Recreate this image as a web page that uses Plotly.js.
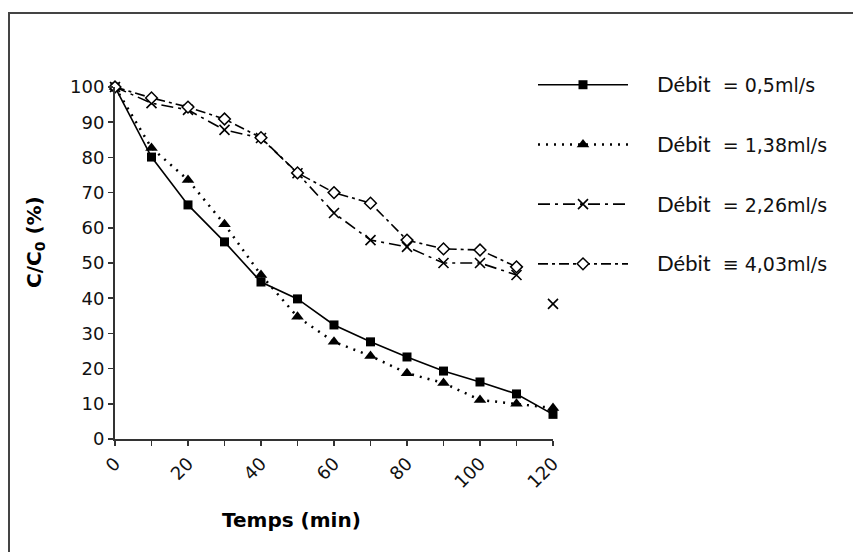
<!DOCTYPE html>
<html>
<head>
<meta charset="utf-8">
<script src="https://cdn.plot.ly/plotly-3.0.1.min.js"></script>
<style>html,body{margin:0;padding:0;background:#fff;}#chart{width:853px;height:552px;}</style>
</head>
<body>
<div id="chart"></div>
<script>
// Time (min)
const temps = [0, 10, 20, 30, 40, 50, 60, 70, 80, 90, 100, 110, 120];
// C/C0 (%) for each flow rate
const debit_0_5  = [100, 80.1, 66.5, 56, 44.6, 39.8, 32.4, 27.6, 23.3, 19.3, 16.2, 12.8, 7];
const debit_1_38 = [100, 82.7, 73.6, 61, 46.6, 34.7, 27.6, 23.6, 18.7, 15.9, 11.1, 10, 8.8];
const debit_2_26 = [100, 95.4, 93.5, 87.8, 85.5, 75.5, 64.2, 56.5, 54.6, 50, 50, 46.6, 38.4];
const debit_4_03 = [100, 96.9, 94.3, 90.9, 85.6, 75.6, 70, 67, 56.5, 54, 53.7, 48.9];
const legendLabels = ['= 0,5ml/s', '= 1,38ml/s', '= 2,26ml/s', '\u2261 4,03ml/s'];
const xTickVals = [0, 20, 40, 60, 80, 100, 120];
const yTickVals = [0, 10, 20, 30, 40, 50, 60, 70, 80, 90, 100];

function lbl(i){
  return '<span style="font-family:Lato;font-size:22px">D\u00e9bit</span>\u00a0\u00a0' + legendLabels[i];
}

const traces = [
  {x: temps, y: debit_0_5, name: lbl(0), legendgroup: 'a', mode: 'lines+markers', cliponaxis: false,
   line: {color: '#000', width: 1.6, dash: 'solid'},
   marker: {symbol: 'square', size: 9, color: '#000'}},
  {x: temps, y: debit_1_38, name: lbl(1), legendgroup: 'b', mode: 'lines+markers', cliponaxis: false,
   line: {color: '#000', width: 2.5, dash: '2px,6px'},
   marker: {symbol: 'triangle-up', size: 11, color: '#000'}},
  {x: temps.slice(0, 12), y: debit_2_26.slice(0, 12), name: lbl(2), legendgroup: 'c', mode: 'lines+markers', cliponaxis: false,
   line: {color: '#000', width: 1.6, dash: '12px,5px,3px,5px'},
   marker: {symbol: 'x-thin-open', size: 10, color: '#000', line: {color: '#000', width: 1.6}}},
  {x: temps.slice(12), y: debit_2_26.slice(12), name: lbl(2), legendgroup: 'c', showlegend: false, mode: 'markers', cliponaxis: false,
   marker: {symbol: 'x-thin-open', size: 10, color: '#000', line: {color: '#000', width: 1.6}}},
  {x: temps.slice(0, debit_4_03.length), y: debit_4_03, name: lbl(3), legendgroup: 'd', mode: 'lines+markers', cliponaxis: false,
   line: {color: '#000', width: 1.6, dash: '10px,4px,3px,4px'},
   marker: {symbol: 'diamond', size: 9, color: '#fff', line: {color: '#000', width: 1.5}}}
];

const layout = {
  width: 853, height: 552,
  margin: {l: 115, r: 300, t: 87, b: 113},
  paper_bgcolor: '#fff', plot_bgcolor: '#fff',
  font: {family: 'DejaVu Sans', color: '#111'},
  showlegend: true,
  legend: {x: (533 - 115) / 438, y: 1.06, xanchor: 'left', yanchor: 'top', bgcolor: 'rgba(0,0,0,0)',
           font: {family: 'DejaVu Sans', size: 19, color: '#111'},
           itemwidth: 114, tracegroupgap: 32, valign: 'middle'},
  xaxis: {range: [0, 120], tickvals: xTickVals, tickangle: -45, ticks: 'outside', ticklen: 5, tickwidth: 1.5,
          tickcolor: '#333', showline: true, linecolor: '#333', linewidth: 2, showgrid: false, zeroline: false,
          tickfont: {family: 'DejaVu Sans', size: 18, color: '#111'},
          minor: {dtick: 10, ticks: 'outside', ticklen: 5, tickwidth: 1.5, tickcolor: '#333', showgrid: false}},
  yaxis: {range: [0, 100], tickvals: yTickVals, ticks: 'outside', ticklen: 5, tickwidth: 1.5, tickcolor: '#333',
          showline: true, linecolor: '#333', linewidth: 2, showgrid: false, zeroline: false,
          tickfont: {family: 'DejaVu Sans', size: 18, color: '#111'}},
  annotations: [
    {text: '<b>Temps (min)</b>', xref: 'paper', yref: 'paper', x: (291 - 115) / 438, y: (439 - 520) / 352,
     xanchor: 'center', yanchor: 'middle',
     showarrow: false, font: {family: 'DejaVu Sans', size: 20, color: '#000'}},
    {text: '<b>C/C<sub>0</sub> (%)</b>', xref: 'paper', yref: 'paper', x: (35 - 115) / 438, y: (439 - 242) / 352,
     xanchor: 'center', yanchor: 'middle',
     showarrow: false, textangle: -90, font: {family: 'DejaVu Sans', size: 20, color: '#000'}}
  ],
  shapes: [
    {type: 'rect', xref: 'paper', yref: 'paper', x0: (9 - 115) / 438, x1: (870 - 115) / 438,
     y0: (439 - 580) / 352, y1: (439 - 13) / 352, line: {color: '#444', width: 2}, fillcolor: 'rgba(0,0,0,0)', layer: 'below'}
  ]
};

Plotly.newPlot('chart', traces, layout, {displayModeBar: false, staticPlot: true}).then(function(gd){
  // Longer legend sample lines, marker centred on them (styling only)
  gd.querySelectorAll('.legend .legendlines path').forEach(function(p){ p.setAttribute('d', 'M5,0h90'); });
  gd.querySelectorAll('.legend .legendpoints path.scatterpts').forEach(function(p){ p.setAttribute('transform', 'translate(50,0)'); });
});
</script>
</body>
</html>
